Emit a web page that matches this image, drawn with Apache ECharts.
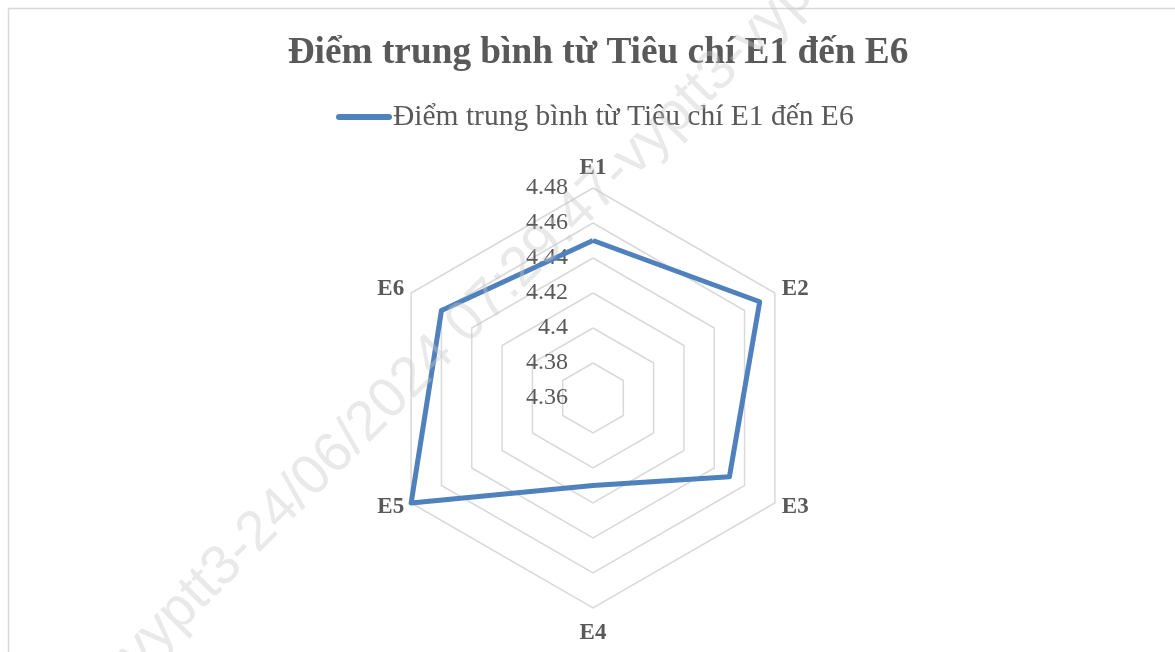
<!DOCTYPE html>
<html>
<head>
<meta charset="utf-8">
<script src="https://cdn.jsdelivr.net/npm/echarts@6/dist/echarts.min.js"></script>
<style>
  html, body { margin: 0; padding: 0; background: #fff; }
  #main { width: 1175px; height: 652px; }
</style>
</head>
<body>
<div id="main"></div>
<script>
var chartDom = document.getElementById('main');
var myChart = echarts.init(chartDom);
var option;

var seriesName = 'Điểm trung bình từ Tiêu chí E1 đến E6';
var categories = ['E1', 'E2', 'E3', 'E4', 'E5', 'E6'];
var values = [4.45, 4.47, 4.45, 4.41, 4.48, 4.46];
var axisMin = 4.36;
var axisMax = 4.48;

// radar goes counter-clockwise, the picture goes clockwise
var order = [0, 5, 4, 3, 2, 1];

var indicators = order.map(function (i, k) {
  var ind = { name: categories[i], min: axisMin, max: axisMax };
  if (categories[i] === 'E4') ind.nameGap = 14;
  if (k === 0) {
    ind.axisLabel = {
      show: true,
      showMinLabel: true,
      color: '#595959',
      fontFamily: 'Liberation Serif',
      fontSize: 24,
      margin: 25,
      formatter: function (v) { return String(parseFloat(v.toFixed(2))); }
    };
  }
  return ind;
});

option = {
  backgroundColor: '#fff',
  title: {
    text: seriesName,
    left: 593,
    textAlign: 'center',
    top: 30,
    textStyle: {
      fontFamily: 'Liberation Serif',
      fontSize: 37.3,
      fontWeight: 'bold',
      color: '#595959'
    }
  },
  legend: {
    top: 97,
    left: 331,
    itemWidth: 56,
    itemHeight: 6,
    icon: 'path://M3,0 L53,0 A3,3 0 0 1 53,6 L3,6 A3,3 0 0 1 3,0 Z',
    itemStyle: { color: '#4F81BD' },
    textStyle: {
      fontFamily: 'Liberation Serif',
      fontSize: 29.5,
      color: '#595959',
      padding: [0, 0, 0, -4]
    },
    data: [seriesName]
  },
  radar: {
    center: [593, 398],
    radius: 210,
    splitNumber: 6,
    shape: 'polygon',
    nameGap: 8,
    axisName: {
      fontFamily: 'Liberation Serif',
      fontSize: 23,
      fontWeight: 'bold',
      color: '#595959'
    },
    axisLine: { show: false },
    axisTick: { show: false },
    axisLabel: { show: false },
    splitArea: { show: false },
    splitLine: { lineStyle: { color: '#D9D9D9', width: 1.5 } },
    indicator: indicators
  },
  series: [
    {
      name: seriesName,
      type: 'radar',
      symbol: 'none',
      lineStyle: { color: '#4F81BD', width: 5, join: 'round' },
      itemStyle: { color: '#4F81BD' },
      z: 3,
      data: [
        { value: order.map(function (i) { return values[i]; }), name: seriesName }
      ]
    }
  ],
  graphic: [
    {
      type: 'rect',
      silent: true,
      shape: { x: 8.5, y: 8.5, width: 1300, height: 800 },
      style: { fill: null, stroke: '#D9D9D9', lineWidth: 1.5 }
    },
    {
      type: 'text',
      silent: true,
      x: 128,
      y: 662,
      rotation: Math.PI / 4,
      z: 10,
      style: {
        text: 'vyptt3-24/06/2024 07:29:47-vyptt3-vyptt3',
        font: '56px "Liberation Sans"',
        fill: 'rgba(200,200,200,0.4)',
        align: 'left',
        verticalAlign: 'middle'
      }
    }
  ]
};

option && myChart.setOption(option);
</script>
</body>
</html>
